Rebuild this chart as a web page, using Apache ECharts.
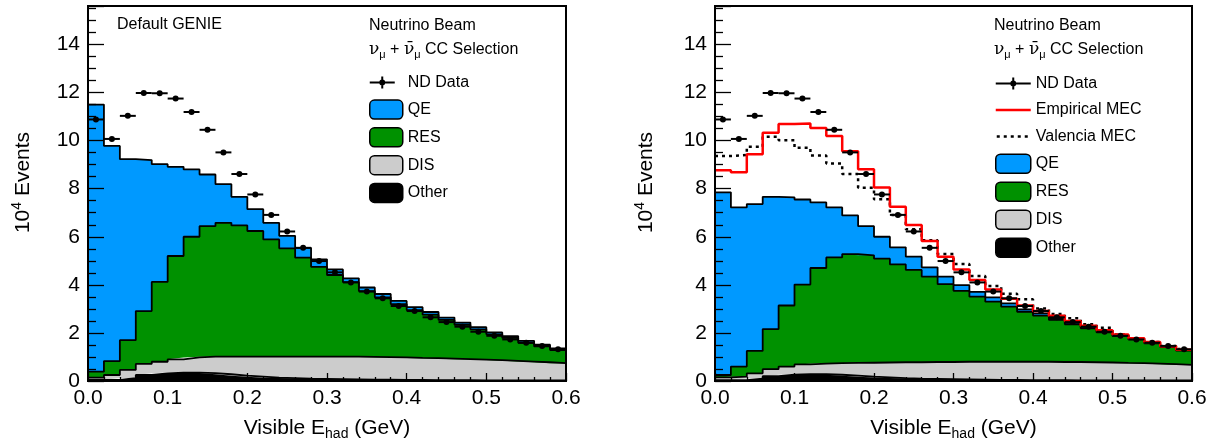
<!DOCTYPE html>
<html><head><meta charset="utf-8">
<script src="https://cdn.jsdelivr.net/npm/echarts@6/dist/echarts.min.js"></script>
<style>html,body{margin:0;padding:0;background:#fff}#c{width:1222px;height:448px}</style>
</head><body><div id="c"></div>
<script>
// ---- data (units of 10^4 events), bins of 0.02 GeV ----
const binCenters = [0.01,0.03,0.05,0.07,0.09,0.11,0.13,0.15,0.17,0.19,0.21,0.23,0.25,0.27,0.29,0.31,0.33,0.35,0.37,0.39,0.41,0.43,0.45,0.47,0.49,0.51,0.53,0.55,0.57,0.59];
const binWidth = 0.02;
const xTicks = [0.0,0.1,0.2,0.3,0.4,0.5,0.6];
const yTicks = [0,2,4,6,8,10,12,14];

const ndData = [10.88,10.07,11.03,11.98,11.97,11.75,11.19,10.45,9.51,8.61,7.76,6.91,6.22,5.54,4.99,4.52,4.10,3.72,3.44,3.12,2.91,2.65,2.45,2.26,2.05,1.88,1.73,1.59,1.46,1.32];

// Left panel: Default GENIE (stack components)
const otherL = [0.05,0.05,0.12,0.25,0.32,0.35,0.35,0.33,0.28,0.22,0.18,0.14,0.12,0.10,0.09,0.08,0.07,0.06,0.06,0.05,0.05,0.04,0.04,0.04,0.03,0.03,0.03,0.03,0.02,0.02];
const disL   = [0.09,0.20,0.34,0.46,0.48,0.55,0.63,0.68,0.73,0.79,0.83,0.87,0.89,0.91,0.92,0.93,0.94,0.94,0.93,0.93,0.91,0.91,0.89,0.87,0.86,0.84,0.81,0.78,0.76,0.72];
const resL   = [0.25,0.58,1.24,2.20,3.32,4.30,5.02,5.43,5.57,5.46,5.23,4.88,4.51,4.12,3.74,3.40,3.10,2.74,2.49,2.22,1.99,1.81,1.61,1.43,1.26,1.07,0.95,0.78,0.66,0.55];
const qeL    = [11.11,8.95,7.53,6.28,4.90,3.71,2.80,2.15,1.61,1.19,0.91,0.69,0.52,0.41,0.31,0.23,0.16,0.15,0.14,0.13,0.12,0.11,0.10,0.09,0.09,0.08,0.08,0.08,0.07,0.07];

// Right panel: with MEC (stack components without MEC)
const otherR = [0.04,0.04,0.10,0.20,0.26,0.28,0.28,0.26,0.22,0.18,0.15,0.12,0.10,0.09,0.08,0.07,0.06,0.05,0.05,0.04,0.04,0.04,0.03,0.03,0.03,0.03,0.02,0.02,0.02,0.02];
const disR   = [0.11,0.14,0.22,0.29,0.34,0.41,0.44,0.48,0.53,0.58,0.62,0.66,0.68,0.70,0.71,0.73,0.74,0.75,0.75,0.76,0.76,0.75,0.76,0.75,0.74,0.72,0.72,0.70,0.68,0.65];
const resR   = [0.10,0.42,0.93,1.67,2.54,3.32,3.98,4.40,4.53,4.47,4.32,4.07,3.84,3.55,3.24,2.95,2.71,2.50,2.29,2.08,1.92,1.75,1.57,1.41,1.25,1.12,0.99,0.85,0.71,0.59];
const qeR    = [7.60,6.62,6.11,5.50,4.50,3.54,2.73,2.08,1.61,1.21,0.91,0.71,0.55,0.39,0.31,0.24,0.20,0.18,0.14,0.10,0.09,0.08,0.07,0.06,0.05,0.04,0.03,0.03,0.03,0.03];
const empiricalMEC = [8.77,8.68,9.43,10.33,10.69,10.71,10.53,10.19,9.56,8.81,8.05,7.25,6.49,5.82,5.17,4.64,4.20,3.81,3.42,3.14,2.91,2.71,2.50,2.30,2.11,1.93,1.78,1.62,1.45,1.30];
const valenciaMEC  = [9.36,9.40,9.74,10.16,10.02,9.70,9.38,9.05,8.61,8.04,7.56,6.91,6.31,5.86,5.28,4.87,4.37,3.95,3.63,3.40,3.02,2.79,2.61,2.36,2.22,1.93,1.78,1.62,1.46,1.33];

// ---- helpers ----
const FONT = '"Liberation Sans", Arial, Helvetica, sans-serif';
const COL = {QE:'#0099ff', RES:'#009100', DIS:'#cccccc', Other:'#000000'};
const n = binCenters.length;
// points as [value, lowEdge] so that the value (y) is the first, stacked dimension
function stepData(vals){
  const pts = binCenters.map((c,i)=>[vals[i], +(c - binWidth/2).toFixed(4)]);
  pts.push([vals[n-1], +(binCenters[n-1] + binWidth/2).toFixed(4)]);
  return pts;
}
function isTick(v, list){ return list.some(t => Math.abs(t - v) < 1e-6); }

function axesFor(k, nameGapY){
  return {
    x: {
      type:'value', gridIndex:k, min:0, max:0.6, interval:0.1, z:10,
      axisLine:{show:true, onZero:false, lineStyle:{color:'#000', width:2}},
      axisTick:{show:true, inside:true, length:8, lineStyle:{color:'#000', width:1.3}},
      minorTick:{show:true, splitNumber:5, length:4, lineStyle:{color:'#000', width:1.3}},
      splitLine:{show:false},
      axisLabel:{fontSize:21, color:'#000', fontFamily:FONT, margin:7,
        formatter: v => isTick(v, xTicks) ? v.toFixed(1) : ''},
      name:'Visible E{sub|had} (GeV)', nameLocation:'middle', nameGap:34,
      nameTextStyle:{fontSize:21, color:'#000', fontFamily:FONT,
        rich:{sub:{fontSize:14, color:'#000', fontFamily:FONT, padding:[12,0,0,0]}}}
    },
    y: {
      type:'value', gridIndex:k, min:0, max:15.6, interval:2, z:10,
      axisLine:{show:true, onZero:false, lineStyle:{color:'#000', width:2}},
      axisTick:{show:true, inside:true, length:16, lineStyle:{color:'#000', width:1.3}},
      minorTick:{show:true, splitNumber:4, length:8, lineStyle:{color:'#000', width:1.3}},
      splitLine:{show:false},
      axisLabel:{fontSize:21, color:'#000', fontFamily:FONT, margin:8,
        formatter: v => isTick(v, yTicks) ? String(Math.round(v)) : ''},
      name:'10{sup|4} Events', nameLocation:'middle', nameGap:nameGapY, nameRotate:90,
      nameTextStyle:{fontSize:21, color:'#000', fontFamily:FONT, padding:[0,0,0,22],
        rich:{sup:{fontSize:14, color:'#000', fontFamily:FONT, padding:[0,0,12,0]}}}
    }
  };
}
const axL = axesFor(0, 52), axR = axesFor(1, 56);

function stackSeries(k, comps){
  const out = [];
  comps.forEach(([name, vals]) => {
    out.push({
      name, type:'line', step:'end', xAxisIndex:k, yAxisIndex:k, stack:'mc'+k,
      data: stepData(vals), encode:{x:1, y:0}, symbol:'none', color:COL[name],
      lineStyle:{width:0, color:COL[name]}, areaStyle:{color:COL[name], opacity:1},
      z:2, silent:true, animation:false
    });
  });
  comps.forEach(([name, vals]) => {
    out.push({
      name: name+' outline', type:'line', step:'end', xAxisIndex:k, yAxisIndex:k, stack:'ol'+k,
      data: stepData(vals), encode:{x:1, y:0}, symbol:'none', lineStyle:{width:1.8, color:'#000'},
      z:3, silent:true, animation:false
    });
  });
  return out;
}
function lineSeries(name, vals, color, width, type, z){
  return { name, type:'line', step:'end', xAxisIndex:1, yAxisIndex:1, data:stepData(vals), encode:{x:1, y:0},
    symbol:'none', color, lineStyle:{color, width, type}, z, silent:true };
}
function dataSeries(k){
  return [
    { name:'ND Data bars', type:'custom', coordinateSystem:'cartesian2d', xAxisIndex:k, yAxisIndex:k,
      data: binCenters.map((c,i)=>[c, ndData[i]]), encode:{x:0, y:1}, z:6, silent:true,
      renderItem:(params, api) => {
        const x = api.value(0), y = api.value(1);
        const p1 = api.coord([x - binWidth/2, y]), p2 = api.coord([x + binWidth/2, y]);
        return {type:'line', shape:{x1:p1[0], y1:p1[1], x2:p2[0], y2:p2[1]}, style:{stroke:'#000', lineWidth:2}};
      } },
    { name:'ND Data', type:'scatter', xAxisIndex:k, yAxisIndex:k,
      data: binCenters.map((c,i)=>[c, ndData[i]]), symbol:'circle', symbolSize:6,
      itemStyle:{color:'#000', opacity:1}, z:7, silent:true }
  ];
}

const series = [].concat(
  stackSeries(0, [['Other', otherL], ['DIS', disL], ['RES', resL], ['QE', qeL]]),
  dataSeries(0),
  stackSeries(1, [['Other', otherR], ['DIS', disR], ['RES', resR], ['QE', qeR]]),
  [ lineSeries('Valencia MEC', valenciaMEC, '#000', 2.5, [3,4], 4),
    lineSeries('Empirical MEC', empiricalMEC, '#ff0000', 2.5, 'solid', 5) ],
  dataSeries(1)
);

const B = (w) => 'M0,0L0,0ZM' + w + ',19L' + w + ',19Z';
const crossL = 'path://' + B(33) + 'M0,8.5L25,8.5L25,10.5L0,10.5ZM11.5,3.5L13.5,3.5L13.5,15.5L11.5,15.5ZM9.5,9.5A3,3,0,1,1,15.5,9.5A3,3,0,1,1,9.5,9.5Z';
const crossR = 'path://' + B(35) + 'M0,8.5L35,8.5L35,10.5L0,10.5ZM16.5,3.5L18.5,3.5L18.5,15.5L16.5,15.5ZM14.5,9.5A3,3,0,1,1,20.5,9.5A3,3,0,1,1,14.5,9.5Z';
const solidIcon = 'path://' + B(35) + 'M0,8.3L35,8.3L35,10.7L0,10.7Z';
let dots = '';
for (let i = 0; i < 5; i++) { const a = 1 + i * 7; dots += 'M' + a + ',8.3L' + (a + 3) + ',8.3L' + (a + 3) + ',10.7L' + a + ',10.7Z'; }
const dottedIcon = 'path://' + B(35) + dots;
function boxItem(name){ return {name, icon:'roundRect', itemStyle:{color:COL[name], borderColor:'#000', borderWidth:1.5, opacity:1}}; }
const legendText = {fontSize:16, color:'#000', fontFamily:FONT, lineHeight:19, height:19};

const header = (x) => ([
  {type:'text', x, y:26, silent:true, style:{text:'Neutrino Beam', font:'16px '+FONT, fill:'#000', verticalAlign:'middle', align:'left'}},
  {type:'text', x, y:50, silent:true, style:{text:'{g|ν}{s|μ} + {g|ν̄}{s|μ} CC Selection', font:'16px '+FONT, fill:'#000', verticalAlign:'middle', align:'left',
     rich:{g:{fontSize:17, fontFamily:'"DejaVu Serif"', fill:'#000'}, s:{fontSize:11, fontFamily:FONT, fill:'#000', padding:[10,0,0,0]}}}}
]);

const option = {
  animation:false,
  backgroundColor:'#fff',
  textStyle:{fontFamily:FONT},
  grid:[
    {left:88, top:6, width:478, height:375, show:true, borderColor:'#000', borderWidth:2, backgroundColor:'transparent', z:10},
    {left:715, top:6, width:477, height:375, show:true, borderColor:'#000', borderWidth:2, backgroundColor:'transparent', z:10}
  ],
  xAxis:[axL.x, axR.x],
  yAxis:[axL.y, axR.y],
  legend:[
    {left:369, top:73, orient:'vertical', padding:0, itemGap:7.3, itemWidth:33, itemHeight:19, selectedMode:false,
     textStyle:legendText,
     data:[{name:'ND Data', icon:crossL, itemStyle:{color:'#000', opacity:1}}, boxItem('QE'), boxItem('RES'), boxItem('DIS'), boxItem('Other')]},
    {left:995, top:74, orient:'vertical', padding:0, itemGap:7.5, itemWidth:35, itemHeight:19, selectedMode:false,
     textStyle:legendText,
     data:[{name:'ND Data', icon:crossR, itemStyle:{color:'#000', opacity:1}},
           {name:'Empirical MEC', icon:solidIcon, itemStyle:{color:'#ff0000', opacity:1}},
           {name:'Valencia MEC', icon:dottedIcon, itemStyle:{color:'#000', opacity:1}},
           boxItem('QE'), boxItem('RES'), boxItem('DIS'), boxItem('Other')]}
  ],
  graphic:[
    {type:'text', x:117, y:25, silent:true, style:{text:'Default GENIE', font:'16px '+FONT, fill:'#000', verticalAlign:'middle', align:'left'}}
  ].concat(header(369), header(994)),
  series
};
const chart = echarts.init(document.getElementById('c'), null, {renderer:'canvas'});
chart.setOption(option);
</script></body></html>
